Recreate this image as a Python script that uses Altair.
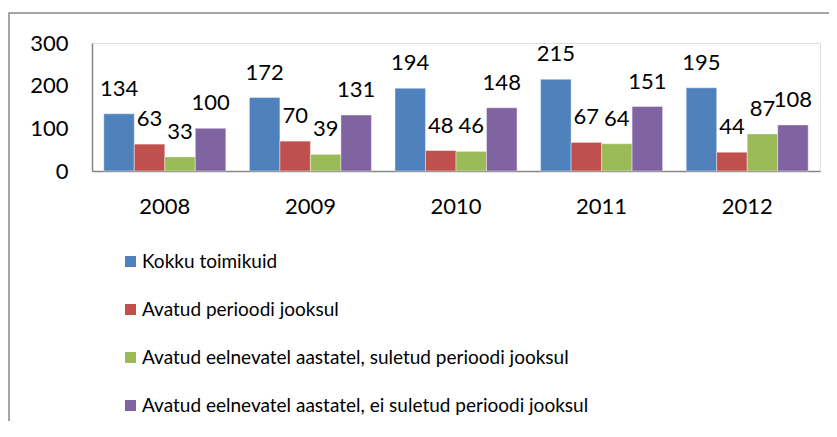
import altair as alt
import pandas as pd

years = ["2008", "2009", "2010", "2011", "2012"]
series = [
    "Kokku toimikuid",
    "Avatud perioodi jooksul",
    "Avatud eelnevatel aastatel, suletud perioodi jooksul",
    "Avatud eelnevatel aastatel, ei suletud perioodi jooksul",
]
kokku = [134, 172, 194, 215, 195]
avatud = [63, 70, 48, 67, 44]
suletud = [33, 39, 46, 64, 87]
ei_suletud = [100, 131, 148, 151, 108]
colors = ["#4F81BD", "#C0504D", "#9BBB59", "#8064A2"]

rows = []
for s, vals in zip(series, [kokku, avatud, suletud, ei_suletud]):
    for y, v in zip(years, vals):
        rows.append({"year": y, "series": s, "value": v})
df = pd.DataFrame(rows)

FONT = "Lato"

x = alt.X("year:N", sort=years, title=None,
          scale=alt.Scale(paddingInner=0.162, paddingOuter=0.081),
          axis=alt.Axis(labelAngle=0, ticks=False, tickSize=0, labelPadding=42,
                        labelBaseline="alphabetic", labelFontSize=22, labelFont=FONT,
                        labelColor="#000000", domainColor="#868686", domainWidth=1.5))
xo = alt.XOffset("series:N", sort=series, scale=alt.Scale(paddingInner=0, paddingOuter=0))
y = alt.Y("value:Q", title=None,
          scale=alt.Scale(domain=[0, 300], nice=False),
          axis=alt.Axis(values=[0, 100, 200, 300], ticks=False, tickSize=0, grid=False,
                        labelPadding=24, labelFontSize=22, labelFont=FONT,
                        labelColor="#000000", domainColor="#868686", domainWidth=1.5))
color = alt.Color("series:N", sort=series,
                  scale=alt.Scale(domain=series, range=colors),
                  legend=alt.Legend(title=None, orient="none", legendX=29, legendY=209,
                                    direction="vertical", symbolType="square",
                                    symbolSize=121, symbolStrokeWidth=0,
                                    labelFontSize=19, labelFont=FONT, labelColor="#000000",
                                    labelOffset=2, rowPadding=28, padding=0,
                                    labelLimit=800))

bars = alt.Chart(df).mark_bar(stroke="#ffffff", strokeWidth=0.8, strokeOpacity=0.5).encode(
    x=x, xOffset=xo, y=y, color=color)

labels = alt.Chart(df).mark_text(baseline="alphabetic", dy=-18, fontSize=22, font=FONT,
                                 color="#000000").encode(
    x=x, xOffset=xo, y=y, text="value:Q")

frame = alt.Chart(pd.DataFrame({"a": [0]})).mark_rect(
    filled=False, stroke="#888888", strokeWidth=1.5).encode(
    x=alt.value(-83), x2=alt.value(760), y=alt.value(-30), y2=alt.value(420))

chart = alt.layer(frame, bars, labels).properties(
    width=728, height=128,
    padding={"left": 84, "top": 35, "right": 9, "bottom": 250},
    autosize=alt.AutoSizeParams(type="none"),
).configure_view(stroke=None).configure(background="#ffffff")

chart.save("out.html", embed_options={"renderer": "svg", "actions": False})
